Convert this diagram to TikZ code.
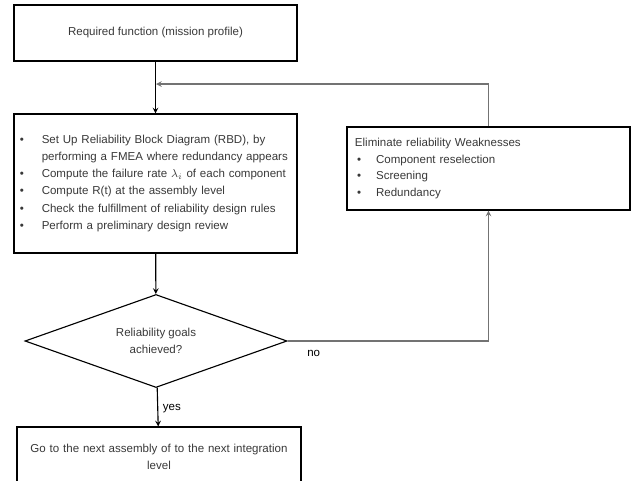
\documentclass[tikz,border=0pt]{standalone}
\usepackage{fontspec}
\setmainfont{Liberation Sans}
\usetikzlibrary{shapes.geometric}

\newcommand{\bitem}[1]{\makebox[15.5pt][l]{\textbullet}#1}
\newcommand{\bcont}[1]{\hspace*{15.5pt}#1}

\begin{document}
\begin{tikzpicture}[x=0.025cm, y=-0.025cm, ->, >=stealth, thick]

    %styles
    \tikzstyle{block}=[rectangle, draw=black, thick, -, minimum width=7.075cm, text=black!78, font=\fontsize{8.2}{11.8}\selectfont]
    \tikzstyle{decision}=[diamond, draw=black, thick, -, aspect=2.8, inner sep=0pt, minimum width=6.55cm, minimum height=2.325cm, text=black!78, font=\fontsize{8.2}{12.4}\selectfont, align=center]
    \tikzstyle{flow}=[draw=black, line width=0.8pt]
    \tikzstyle{back}=[draw=black!55, line width=0.8pt]

    \useasboundingbox (0,0) rectangle (644,480);

    % nodes
    \node[block, minimum height=3.475cm, text width=6.775cm, align=left, font=\fontsize{8.2}{12.1}\selectfont] (rbd) at (155.5,183.5) {%
        \bitem{Set Up Reliability Block Diagram (RBD), by}\\
        \bcont{performing a FMEA where redundancy appears}\\
        \bitem{Compute the failure rate $\lambda_i$ of each component}\\
        \bitem{Compute R(t) at the assembly level}\\
        \bitem{Check the fulfillment of reliability design rules}\\
        \bitem{Perform a preliminary design review}};
    \node[block, minimum height=1.4cm] (req) at (155.5,33) {Required function (mission profile)};
    \node[decision] (goal) at (156,341) {Reliability goals\\achieved?};
    \node[block, minimum height=2.075cm, text width=6.675cm, align=left, font=\fontsize{8.2}{12}\selectfont] (weak) at (488.5,168.5) {%
        Eliminate reliability Weaknesses\\
        \hspace*{1.5pt}\makebox[13.5pt][l]{\textbullet}Component reselection\\
        \hspace*{1.5pt}\makebox[13.5pt][l]{\textbullet}Screening\\
        \hspace*{1.5pt}\makebox[13.5pt][l]{\textbullet}Redundancy};
    \node[block, minimum width=7.1cm, minimum height=1.5cm, text width=6.8cm, align=center] (next) at (159,457) {Go to the next assembly of to the next integration\\level};
    \coordinate (join) at (156,84);

    % arrows
    \draw[flow] (req) -- (rbd);
    \draw[flow] (rbd) -- (goal);
    \draw[flow] (goal) -- node[right, text=black, font=\fontsize{8.2}{10}\selectfont, yshift=-0.5mm] {yes} (next);
    \draw[back] (goal.east) -| node[pos=0.065, below, text=black, font=\fontsize{8.2}{10}\selectfont, yshift=-1mm] {no} (weak.south);
    \draw[back] (weak.north) |- (join);
\end{tikzpicture}
\end{document}
